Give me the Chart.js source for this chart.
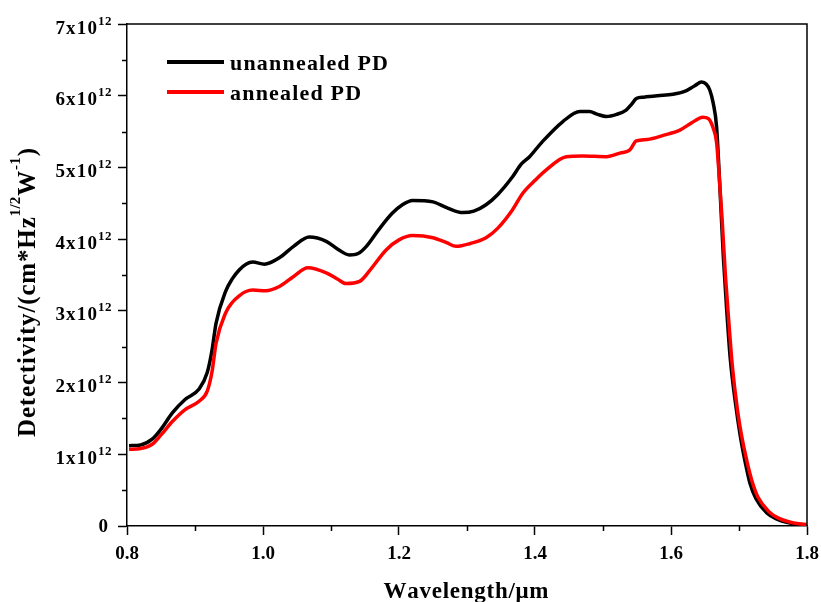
<!DOCTYPE html>
<html>
<head>
<meta charset="utf-8">
<script src="https://cdn.jsdelivr.net/npm/chart.js@4.4.0/dist/chart.umd.min.js"></script>
<style>
  html, body { margin: 0; padding: 0; background: #fff; }
  #wrap { width: 821px; height: 602px; }
</style>
</head>
<body>
<div id="wrap"><canvas id="c" width="821" height="602"></canvas></div>
<script>
// Wavelength (µm) and detectivity (units of 10^12 cm·Hz^1/2·W^-1)
const wavelengthUnannealed = [
  0.803, 0.820, 0.837, 0.850, 0.867, 0.885, 0.906, 0.918, 0.925, 0.931,
  0.945, 0.955, 0.965, 0.975, 0.985, 1.002, 1.024, 1.045, 1.068, 1.093,
  1.110, 1.127, 1.140, 1.152, 1.170, 1.190, 1.205, 1.220, 1.250, 1.270,
  1.294, 1.310, 1.328, 1.345, 1.367, 1.380, 1.392, 1.410, 1.441, 1.466,
  1.480, 1.492, 1.505, 1.520, 1.534, 1.542, 1.549, 1.560, 1.580, 1.603,
  1.620, 1.635, 1.645, 1.652, 1.657, 1.662, 1.667, 1.672, 1.677, 1.682,
  1.687, 1.695, 1.702, 1.710, 1.716, 1.725, 1.741, 1.755, 1.770, 1.785,
  1.800
];
const detectivityUnannealed = [
  1.12, 1.13, 1.21, 1.35, 1.58, 1.76, 1.91, 2.14, 2.45, 2.83,
  3.27, 3.45, 3.57, 3.65, 3.68, 3.65, 3.74, 3.90, 4.03, 3.97,
  3.86, 3.78, 3.80, 3.90, 4.13, 4.36, 4.48, 4.54, 4.52, 4.44,
  4.37, 4.39, 4.48, 4.62, 4.87, 5.05, 5.15, 5.35, 5.64, 5.78,
  5.78, 5.74, 5.71, 5.74, 5.80, 5.88, 5.96, 5.98, 6.00, 6.02,
  6.06, 6.14, 6.19, 6.16, 6.08, 5.90, 5.57, 4.70, 3.75, 3.00,
  2.35, 1.70, 1.25, 0.85, 0.60, 0.38, 0.18, 0.10, 0.05, 0.025,
  0.015
];

const wavelengthAnnealed = [
  0.803, 0.820, 0.837, 0.850, 0.867, 0.885, 0.906, 0.918, 0.925, 0.931,
  0.945, 0.955, 0.965, 0.975, 0.985, 1.004, 1.024, 1.045, 1.066, 1.093,
  1.110, 1.122, 1.142, 1.160, 1.181, 1.200, 1.220, 1.250, 1.270, 1.284,
  1.305, 1.328, 1.345, 1.367, 1.382, 1.400, 1.417, 1.446, 1.470, 1.505,
  1.525, 1.539, 1.549, 1.565, 1.590, 1.613, 1.630, 1.647, 1.655, 1.662,
  1.667, 1.670, 1.675, 1.680, 1.685, 1.690, 1.698, 1.705, 1.713, 1.720,
  1.728, 1.744, 1.758, 1.773, 1.788, 1.800
];
const detectivityAnnealed = [
  1.07, 1.08, 1.14, 1.27, 1.46, 1.62, 1.74, 1.88, 2.15, 2.55,
  2.97, 3.12, 3.21, 3.27, 3.29, 3.28, 3.34, 3.48, 3.60, 3.53,
  3.44, 3.38, 3.41, 3.60, 3.85, 3.99, 4.05, 4.02, 3.95, 3.90,
  3.94, 4.02, 4.15, 4.41, 4.64, 4.82, 4.97, 5.15, 5.16, 5.15,
  5.20, 5.24, 5.37, 5.39, 5.45, 5.52, 5.62, 5.70, 5.68, 5.55,
  5.35, 5.00, 4.30, 3.50, 2.85, 2.25, 1.60, 1.20, 0.85, 0.60,
  0.40, 0.20, 0.11, 0.06, 0.03, 0.02
];

const seriesNames = ['unannealed PD', 'annealed PD'];
const seriesColors = ['#000000', '#ff0000'];
const xTickValues = [0.8, 1.0, 1.2, 1.4, 1.6, 1.8];
const xMinorValues = [0.9, 1.1, 1.3, 1.5, 1.7];
const yTickValues = [0, 1, 2, 3, 4, 5, 6, 7];
const yMinorValues = [0.5, 1.5, 2.5, 3.5, 4.5, 5.5, 6.5];
const yTickExponent = '12';
const xTitle = 'Wavelength/\u03bcm';
const yTitleParts = [
  { text: 'Detectivity/(cm*Hz', sup: false },
  { text: '1/2', sup: true },
  { text: 'W', sup: false },
  { text: '-1', sup: true },
  { text: ')', sup: false }
];

const FONT = "'Liberation Serif', 'Times New Roman', serif";

function toPoints(xs, ys) { return xs.map((x, i) => ({ x: x, y: ys[i] })); }

function charWidths(ctx, s) { return [...s].map(ch => ctx.measureText(ch).width); }
function naturalWidth(ctx, s) { return charWidths(ctx, s).reduce((a, b) => a + b, 0); }
function spacedWidth(ctx, s, sp) { return naturalWidth(ctx, s) + sp * ([...s].length - 1); }
function drawSpaced(ctx, s, x, y, sp) {
  for (const ch of [...s]) { ctx.fillText(ch, x, y); x += ctx.measureText(ch).width + sp; }
  return x;
}

const decor = {
  id: 'decor',
  afterDraw(chart) {
    const { ctx, chartArea: a, scales: { x, y } } = chart;
    ctx.save();
    ctx.strokeStyle = '#000';
    ctx.fillStyle = '#000';
    ctx.lineWidth = 1.5;

    // frame: top and right edges
    ctx.beginPath();
    ctx.moveTo(a.left, a.top);
    ctx.lineTo(a.right, a.top);
    ctx.lineTo(a.right, a.bottom);
    ctx.stroke();

    // minor ticks
    ctx.beginPath();
    xMinorValues.forEach(v => {
      const px = Math.round(x.getPixelForValue(v)) + 0.5;
      ctx.moveTo(px, a.bottom); ctx.lineTo(px, a.bottom + 5);
    });
    yMinorValues.forEach(v => {
      const py = Math.round(y.getPixelForValue(v)) + 0.5;
      ctx.moveTo(a.left, py); ctx.lineTo(a.left - 5, py);
    });
    ctx.stroke();

    // x tick labels
    ctx.font = 'bold 19px ' + FONT;
    ctx.textBaseline = 'alphabetic';
    ctx.textAlign = 'center';
    xTickValues.forEach(v => {
      ctx.fillText(v.toFixed(1), x.getPixelForValue(v), a.bottom + 33);
    });

    // y tick labels  N x 10^12
    ctx.textAlign = 'left';
    yTickValues.forEach(v => {
      const py = y.getPixelForValue(v);
      ctx.font = 'bold 19px ' + FONT;
      if (v === 0) {
        const w = ctx.measureText('0').width;
        ctx.fillText('0', 108 - w, py + 5.5);
        return;
      }
      const main = v + 'x10';
      const sp = 1.2;
      const w = spacedWidth(ctx, main, sp);
      drawSpaced(ctx, main, 97 - w, py + 9.5, sp);
      ctx.font = 'bold 13px ' + FONT;
      drawSpaced(ctx, yTickExponent, 98, py + 0.5, 0.5);
    });

    // x axis title
    ctx.font = 'bold 23px ' + FONT;
    {
      const target = 165;
      const n = [...xTitle].length;
      const sp = (target - naturalWidth(ctx, xTitle)) / (n - 1);
      const cx = (a.left + a.right) / 2 - 1;
      drawSpaced(ctx, xTitle, cx - target / 2, 598, sp);
    }

    // y axis title (rotated, with superscripts kept tight)
    {
      const mainFont = 'bold 25px ' + FONT;
      const supFont = 'bold 15px ' + FONT;
      const supSp = 0.3;
      let natMain = 0, nMain = 0, supTotal = 0;
      yTitleParts.forEach(p => {
        if (p.sup) {
          ctx.font = supFont;
          supTotal += spacedWidth(ctx, p.text, supSp);
        } else {
          ctx.font = mainFont;
          natMain += naturalWidth(ctx, p.text);
          nMain += [...p.text].length;
        }
      });
      const target = 289;
      const gaps = nMain + 1;
      const sp = (target - natMain - supTotal) / gaps;
      ctx.save();
      ctx.translate(35, 437);
      ctx.rotate(-Math.PI / 2);
      let cx = 0;
      yTitleParts.forEach(p => {
        if (p.sup) {
          ctx.font = supFont;
          cx = drawSpaced(ctx, p.text, cx, -15, supSp) - supSp + sp;
        } else {
          ctx.font = mainFont;
          cx = drawSpaced(ctx, p.text, cx, 0, sp);
        }
      });
      ctx.restore();
    }

    // legend
    ctx.font = 'bold 22px ' + FONT;
    const legSp = (158 - naturalWidth(ctx, seriesNames[0])) / ([...seriesNames[0]].length - 1);
    const legendRows = [62, 92];
    seriesNames.forEach((name, i) => {
      const ly = legendRows[i];
      ctx.strokeStyle = seriesColors[i];
      ctx.lineWidth = 4;
      ctx.beginPath();
      ctx.moveTo(167, ly); ctx.lineTo(224, ly);
      ctx.stroke();
      ctx.fillStyle = '#000';
      drawSpaced(ctx, name, 230, ly + 8, legSp);
    });

    ctx.restore();
  }
};

new Chart(document.getElementById('c'), {
  type: 'line',
  data: {
    datasets: [
      {
        label: seriesNames[0],
        data: toPoints(wavelengthUnannealed, detectivityUnannealed),
        borderColor: seriesColors[0],
        borderWidth: 3.5,
        pointRadius: 0,
        cubicInterpolationMode: 'monotone',
        fill: false,
        order: 1
      },
      {
        label: seriesNames[1],
        data: toPoints(wavelengthAnnealed, detectivityAnnealed),
        borderColor: seriesColors[1],
        borderWidth: 3.5,
        pointRadius: 0,
        cubicInterpolationMode: 'monotone',
        fill: false,
        order: 0
      }
    ]
  },
  options: {
    responsive: false,
    animation: false,
    devicePixelRatio: 1,
    layout: { padding: { top: 24, right: 14, left: 0, bottom: 0 } },
    plugins: { legend: { display: false }, tooltip: { enabled: false } },
    scales: {
      x: {
        type: 'linear',
        min: 0.8,
        max: 1.8,
        afterBuildTicks: s => { s.ticks = xTickValues.map(v => ({ value: v })); },
        ticks: { display: false },
        grid: { drawOnChartArea: false, drawTicks: true, tickLength: 9, tickColor: '#000', tickWidth: 1.5 },
        border: { display: true, color: '#000', width: 1.5 },
        afterFit: s => { s.height = 76; }
      },
      y: {
        type: 'linear',
        min: 0,
        max: 7,
        afterBuildTicks: s => { s.ticks = yTickValues.map(v => ({ value: v })); },
        ticks: { display: false },
        grid: { drawOnChartArea: false, drawTicks: true, tickLength: 9, tickColor: '#000', tickWidth: 1.5 },
        border: { display: true, color: '#000', width: 1.5 },
        afterFit: s => { s.width = 127; }
      }
    }
  },
  plugins: [decor]
});
</script>
</body>
</html>
